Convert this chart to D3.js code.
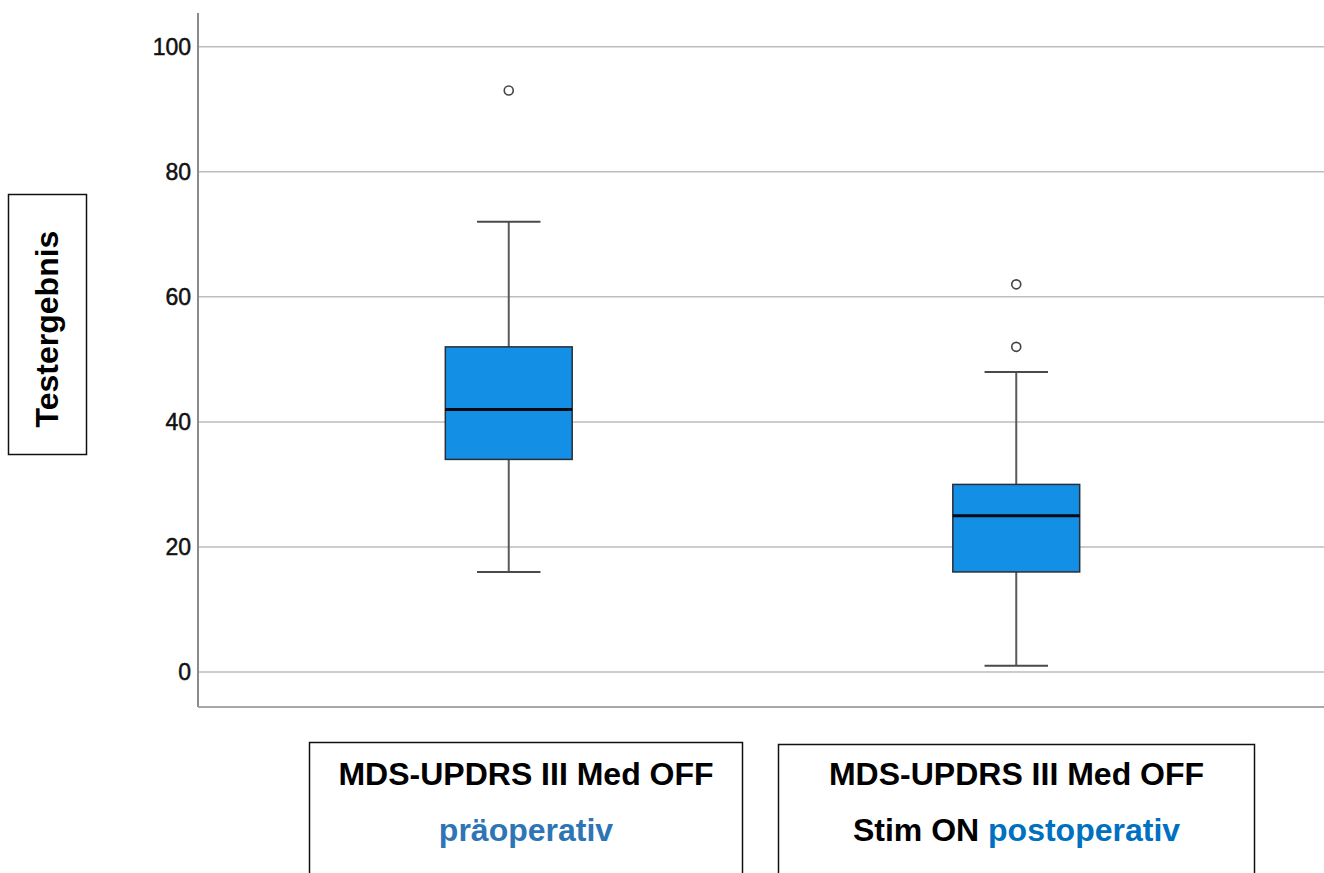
<!DOCTYPE html>
<html>
<head>
<meta charset="utf-8">
<script src="https://cdn.jsdelivr.net/npm/d3@7"></script>
<style>
  html, body { margin: 0; padding: 0; background: #fff; }
  svg { display: block; font-family: "Liberation Sans", Arial, sans-serif; }
</style>
</head>
<body>
<svg id="chart" width="1324" height="873"></svg>
<script>
// Box plot summaries for the two MDS-UPDRS III measurements
const categories   = ["präoperativ", "postoperativ"];
const whiskerLow   = [16, 1];
const q1           = [34, 16];
const median       = [42, 25];
const q3           = [52, 30];
const whiskerHigh  = [72, 48];
const outliers     = [[93], [52, 62]];
const yTicks       = [0, 20, 40, 60, 80, 100];

const svg = d3.select("#chart");

const plot = { left: 198, right: 1324, top: 13, bottom: 707 };

const y = d3.scaleLinear().domain([-5.6, 105.4]).range([plot.bottom, plot.top]);
const x = d3.scaleBand().domain(categories).range([255, 1270]).padding(0);
const boxW = x.bandwidth() * 0.25;
const capW = boxW * 0.5;
const cx = c => x(c) + x.bandwidth() / 2;

// horizontal gridlines
svg.append("g").selectAll("line").data(yTicks).join("line")
  .attr("x1", plot.left).attr("x2", plot.right)
  .attr("y1", d => y(d)).attr("y2", d => y(d))
  .attr("stroke", "#bdbdbd").attr("stroke-width", 1.5);

// y axis with tick labels
const yAxis = svg.append("g")
  .attr("transform", `translate(${plot.left},0)`)
  .call(d3.axisLeft(y).tickValues(yTicks).tickSize(0).tickPadding(7));
yAxis.select(".domain").remove();
yAxis.selectAll("text")
  .attr("font-size", 23).attr("fill", "#111")
  .attr("stroke", "#111").attr("stroke-width", 0.5)
  .attr("font-family", "'Liberation Sans', Arial, sans-serif");

// axis frame lines
svg.append("line")
  .attr("x1", plot.left).attr("x2", plot.left)
  .attr("y1", plot.top).attr("y2", plot.bottom)
  .attr("stroke", "#8a8a8a").attr("stroke-width", 2);
svg.append("line")
  .attr("x1", plot.left).attr("x2", plot.right)
  .attr("y1", plot.bottom).attr("y2", plot.bottom)
  .attr("stroke", "#a8a8a8").attr("stroke-width", 2);

// boxes
const boxes = svg.append("g").selectAll("g").data(categories).join("g");

boxes.append("line") // whisker stem
  .attr("x1", cx).attr("x2", cx)
  .attr("y1", (d, i) => y(whiskerLow[i])).attr("y2", (d, i) => y(whiskerHigh[i]))
  .attr("stroke", "#5a5a5a").attr("stroke-width", 2);

boxes.append("line") // upper cap
  .attr("x1", d => cx(d) - capW / 2).attr("x2", d => cx(d) + capW / 2)
  .attr("y1", (d, i) => y(whiskerHigh[i])).attr("y2", (d, i) => y(whiskerHigh[i]))
  .attr("stroke", "#4a4a4a").attr("stroke-width", 2);

boxes.append("line") // lower cap
  .attr("x1", d => cx(d) - capW / 2).attr("x2", d => cx(d) + capW / 2)
  .attr("y1", (d, i) => y(whiskerLow[i])).attr("y2", (d, i) => y(whiskerLow[i]))
  .attr("stroke", "#4a4a4a").attr("stroke-width", 2);

boxes.append("rect")
  .attr("x", d => cx(d) - boxW / 2).attr("width", boxW)
  .attr("y", (d, i) => y(q3[i]))
  .attr("height", (d, i) => y(q1[i]) - y(q3[i]))
  .attr("fill", "#138fe6").attr("stroke", "#2a2f36").attr("stroke-width", 1.5);

boxes.append("line") // median
  .attr("x1", d => cx(d) - boxW / 2).attr("x2", d => cx(d) + boxW / 2)
  .attr("y1", (d, i) => y(median[i])).attr("y2", (d, i) => y(median[i]))
  .attr("stroke", "#050a10").attr("stroke-width", 3);

boxes.selectAll("circle")
  .data((d, i) => outliers[i].map(v => ({ c: d, v })))
  .join("circle")
  .attr("cx", p => cx(p.c)).attr("cy", p => y(p.v)).attr("r", 4.5)
  .attr("fill", "#fff").attr("stroke", "#444").attr("stroke-width", 1.6);

// y axis title in a framed box
const yTitle = svg.append("g");
yTitle.append("rect")
  .attr("x", 8.5).attr("y", 194.5).attr("width", 78).attr("height", 260)
  .attr("fill", "none").attr("stroke", "#111").attr("stroke-width", 1.5);
yTitle.append("text")
  .attr("transform", "translate(58,329) rotate(-90)")
  .attr("text-anchor", "middle")
  .attr("font-size", 32).attr("font-weight", "bold").attr("fill", "#000")
  .text("Testergebnis");

// category labels in framed boxes
const labelBoxes = [
  { x: 309.5, w: 433, top: 742.5, tx: 526 },
  { x: 778.5, w: 476, top: 744.5, tx: 1016.5 }
];
const labelLines = [
  [[{ t: "MDS-UPDRS III Med OFF", c: "#000" }], [{ t: "präoperativ", c: "#2e75b6" }]],
  [[{ t: "MDS-UPDRS III Med OFF", c: "#000" }], [{ t: "Stim ON ", c: "#000" }, { t: "postoperativ", c: "#0070c0" }]]
];
const labels = svg.append("g").selectAll("g").data(categories).join("g");
labels.append("rect")
  .attr("x", (d, i) => labelBoxes[i].x).attr("y", (d, i) => labelBoxes[i].top)
  .attr("width", (d, i) => labelBoxes[i].w).attr("height", 200)
  .attr("fill", "none").attr("stroke", "#111").attr("stroke-width", 1.5);
labels.each(function (d, i) {
  const g = d3.select(this);
  labelLines[i].forEach((line, li) => {
    const t = g.append("text")
      .attr("x", labelBoxes[i].tx).attr("y", li === 0 ? 785 : 841)
      .attr("text-anchor", "middle")
      .attr("font-size", 32).attr("font-weight", "bold");
    line.forEach(seg => t.append("tspan").attr("fill", seg.c).text(seg.t));
  });
});
</script>
</body>
</html>
